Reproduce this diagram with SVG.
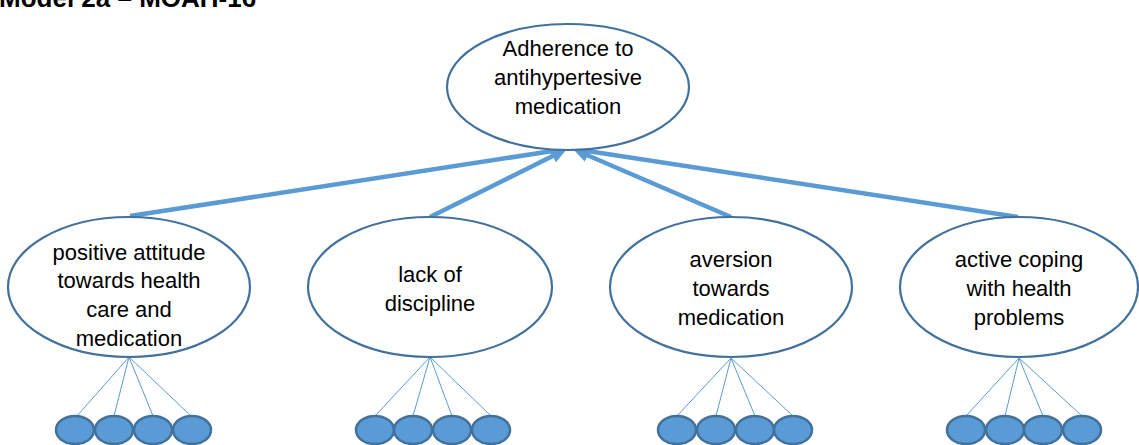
<svg xmlns="http://www.w3.org/2000/svg" width="1139" height="445" viewBox="0 0 1139 445">
  <style>
    .big { fill: #ffffff; stroke: #41719c; stroke-width: 2.2; }
    .small { fill: #5b9bd5; stroke: #41719c; stroke-width: 2.5; }
    .lbl { font-family: "Liberation Sans", Arial, sans-serif; font-size: 22px; fill: #000000; text-anchor: middle; }
    .title { font-family: "Liberation Sans", Arial, sans-serif; font-size: 26px; font-weight: bold; fill: #000000; }
    .arrow { stroke: #5b9bd5; stroke-width: 4.5; fill: none; marker-end: url(#ah); }
    .thin { stroke: #5b9bd5; stroke-width: 1; fill: none; }
  </style>
  <defs>
    <marker id="ah" markerUnits="userSpaceOnUse" markerWidth="16" markerHeight="14" viewBox="0 0 16 14" refX="4" refY="7" orient="auto">
      <path d="M0,0 L16,7 L0,14 z" fill="#5b9bd5"/>
    </marker>
  </defs>
  <rect x="0" y="0" width="1139" height="445" fill="#ffffff"/>
  <text class="title" x="-1" y="7">Model 2a – MOAH-16</text>

  <g id="connectors">
    <line class="arrow" x1="130" y1="216" x2="554.1" y2="150.8"/>
    <line class="arrow" x1="430" y1="217" x2="556.3" y2="154.3"/>
    <line class="arrow" x1="731" y1="217" x2="584.0" y2="153.7"/>
    <line class="arrow" x1="1018" y1="217" x2="585.9" y2="150.8"/>
    <g id="fan1">
      <line class="thin" x1="129" y1="357" x2="77" y2="416"/>
      <line class="thin" x1="129" y1="357" x2="114" y2="416"/>
      <line class="thin" x1="129" y1="357" x2="153" y2="416"/>
      <line class="thin" x1="129" y1="357" x2="191" y2="416"/>
    </g>
    <g id="fan2">
      <line class="thin" x1="430" y1="357" x2="375" y2="416"/>
      <line class="thin" x1="430" y1="357" x2="413" y2="416"/>
      <line class="thin" x1="430" y1="357" x2="452" y2="416"/>
      <line class="thin" x1="430" y1="357" x2="491" y2="416"/>
    </g>
    <g id="fan3">
      <line class="thin" x1="731" y1="358" x2="677" y2="416"/>
      <line class="thin" x1="731" y1="358" x2="716" y2="416"/>
      <line class="thin" x1="731" y1="358" x2="755" y2="416"/>
      <line class="thin" x1="731" y1="358" x2="793" y2="416"/>
    </g>
    <g id="fan4">
      <line class="thin" x1="1019" y1="358" x2="966" y2="416"/>
      <line class="thin" x1="1019" y1="358" x2="1005" y2="416"/>
      <line class="thin" x1="1019" y1="358" x2="1043" y2="416"/>
      <line class="thin" x1="1019" y1="358" x2="1082" y2="416"/>
    </g>
  </g>

  <g id="adherence">
    <ellipse class="big" cx="568" cy="87" rx="121" ry="63"/>
    <text class="lbl" x="568" y="56">Adherence to</text>
    <text class="lbl" x="568" y="85">antihypertesive</text>
    <text class="lbl" x="568" y="114">medication</text>
  </g>

  <g id="positive-attitude">
    <ellipse class="big" cx="129" cy="287" rx="121" ry="70"/>
    <text class="lbl" x="129" y="260">positive attitude</text>
    <text class="lbl" x="129" y="288">towards health</text>
    <text class="lbl" x="129" y="317">care and</text>
    <text class="lbl" x="129" y="346">medication</text>
  </g>

  <g id="lack-of-discipline">
    <ellipse class="big" cx="430" cy="287" rx="122" ry="70"/>
    <text class="lbl" x="430" y="282">lack of</text>
    <text class="lbl" x="430" y="311">discipline</text>
  </g>

  <g id="aversion">
    <ellipse class="big" cx="731" cy="287" rx="121" ry="70"/>
    <text class="lbl" x="731" y="267">aversion</text>
    <text class="lbl" x="731" y="296">towards</text>
    <text class="lbl" x="731" y="325">medication</text>
  </g>

  <g id="active-coping">
    <ellipse class="big" cx="1019" cy="287" rx="119" ry="70"/>
    <text class="lbl" x="1019" y="267">active coping</text>
    <text class="lbl" x="1019" y="296">with health</text>
    <text class="lbl" x="1019" y="325">problems</text>
  </g>

  <g id="items1">
    <ellipse class="small" cx="75" cy="430" rx="19" ry="14"/>
    <ellipse class="small" cx="114" cy="430" rx="19" ry="14"/>
    <ellipse class="small" cx="153" cy="430" rx="19" ry="14"/>
    <ellipse class="small" cx="192" cy="430" rx="19" ry="14"/>
  </g>
  <g id="items2">
    <ellipse class="small" cx="375" cy="430" rx="19" ry="14"/>
    <ellipse class="small" cx="413" cy="430" rx="19" ry="14"/>
    <ellipse class="small" cx="452" cy="430" rx="19" ry="14"/>
    <ellipse class="small" cx="491" cy="430" rx="19" ry="14"/>
  </g>
  <g id="items3">
    <ellipse class="small" cx="677" cy="430" rx="19" ry="14"/>
    <ellipse class="small" cx="716" cy="430" rx="19" ry="14"/>
    <ellipse class="small" cx="755" cy="430" rx="19" ry="14"/>
    <ellipse class="small" cx="793" cy="430" rx="19" ry="14"/>
  </g>
  <g id="items4">
    <ellipse class="small" cx="966" cy="430" rx="19" ry="14"/>
    <ellipse class="small" cx="1005" cy="430" rx="19" ry="14"/>
    <ellipse class="small" cx="1043" cy="430" rx="19" ry="14"/>
    <ellipse class="small" cx="1082" cy="430" rx="19" ry="14"/>
  </g>
</svg>
